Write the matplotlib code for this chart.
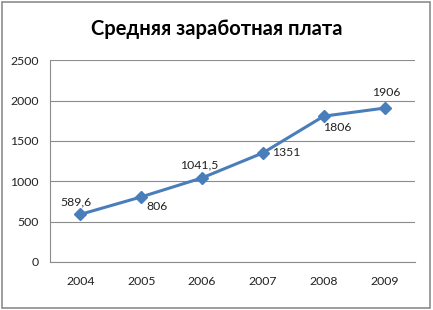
import matplotlib.pyplot as plt
from matplotlib.patches import Rectangle

# данные
years = ['2004', '2005', '2006', '2007', '2008', '2009']
salary = [589.6, 806, 1041.5, 1351, 1806, 1906]
labels = ['589,6', '806', '1041,5', '1351', '1806', '1906']
# где ставить подпись: смещение в пунктах
offsets = [(-3, 9), (11, -7), (-2, 9), (17, 0), (10, -8), (1, 11.5)]

plt.rcParams['font.family'] = ['Lato', 'DejaVu Sans']

fig = plt.figure(figsize=(4.33, 3.10), dpi=100)
ax = fig.add_axes([0.1155, 0.155, 0.843, 0.651])

x = list(range(len(years)))
ax.plot(x, salary, color='#4A7EBB', lw=2.2, marker='D', ms=6,
        markerfacecolor='#4A7EBB', markeredgecolor='#4A7EBB', zorder=3)

for xi, yi, lab, (dx, dy) in zip(x, salary, labels, offsets):
    ax.annotate(lab, (xi, yi), xytext=(dx, dy), textcoords='offset points',
                ha='center', va='center', fontsize=8.8, color='#222222')

ax.set_xlim(-0.5, len(years) - 0.5)
ax.set_ylim(0, 2500)
ax.set_yticks(range(0, 2501, 500))
ax.set_xticks(x)
ax.set_xticklabels(years)
ax.tick_params(length=0, labelsize=8.8, colors='#222222')
ax.tick_params(axis='x', pad=10)
ax.tick_params(axis='y', pad=8)
ax.grid(axis='y', color='#8c8c8c', lw=0.8)
ax.set_axisbelow(True)
for s in ['top', 'right']:
    ax.spines[s].set_visible(False)
for s in ['left', 'bottom']:
    ax.spines[s].set_color('#8c8c8c')
    ax.spines[s].set_linewidth(0.8)

fig.text(0.5, 0.905, 'Средняя заработная плата', ha='center', va='center',
         fontsize=14.5, fontweight='bold')

fig.patches.append(Rectangle((0.004, 0.005), 0.99, 0.99, transform=fig.transFigure,
                             fill=False, edgecolor='#8c8c8c', lw=1.2))

fig.savefig('out.png', dpi=100)
